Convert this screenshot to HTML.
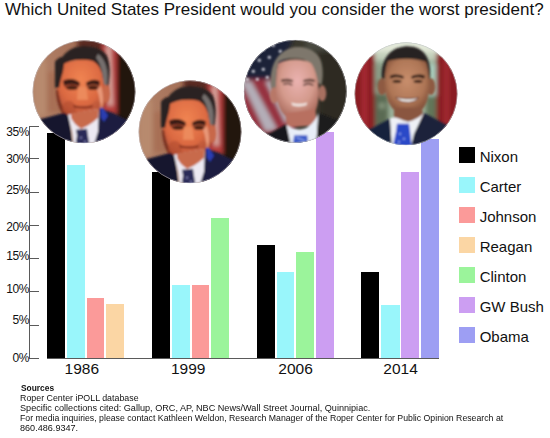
<!DOCTYPE html>
<html><head><meta charset="utf-8">
<style>
*{margin:0;padding:0;box-sizing:border-box}
html,body{width:550px;height:438px;background:#fff;overflow:hidden;position:relative;font-family:"Liberation Sans",sans-serif;color:#111}
.a{position:absolute}
#title{left:5px;top:0px;font-size:17px;white-space:nowrap;line-height:20px}
.yl{position:absolute;right:521px;font-size:12px;line-height:14px;text-align:right;white-space:nowrap;letter-spacing:-0.45px}
.bar{position:absolute;bottom:80px;width:18px}
.yr{position:absolute;top:360px;font-size:15.5px;line-height:17px;white-space:nowrap}
.lg{position:absolute;left:458.5px;width:16.5px;height:16px}
.lt{position:absolute;left:479.7px;font-size:15px;line-height:17px;white-space:nowrap}
.sl{position:absolute;left:20px;font-size:9px;line-height:10px;white-space:nowrap;color:#111;transform-origin:0 0}
</style></head><body>
<div id="title" class="a">Which United States President would you consider the worst president?</div>

<!-- axis -->
<div class="a" style="left:29.2px;top:125.5px;width:1.3px;height:233px;background:#5a5a5a"></div>
<div class="a" style="left:47px;top:357.5px;width:392px;height:1.2px;background:#5a5a5a"></div>
<div class="a" style="left:30px;top:357.5px;width:9px;height:1.2px;background:#5a5a5a"></div>
<div class="a" style="left:30px;top:125.5px;width:9px;height:1.2px;background:#5a5a5a"></div>
<div class="a" style="left:30px;top:158px;width:9px;height:1.2px;background:#5a5a5a"></div>
<div class="a" style="left:30px;top:191.5px;width:9px;height:1.2px;background:#5a5a5a"></div>
<div class="a" style="left:30px;top:225px;width:9px;height:1.2px;background:#5a5a5a"></div>
<div class="a" style="left:30px;top:258px;width:9px;height:1.2px;background:#5a5a5a"></div>
<div class="a" style="left:30px;top:291px;width:9px;height:1.2px;background:#5a5a5a"></div>
<div class="a" style="left:30px;top:324.5px;width:9px;height:1.2px;background:#5a5a5a"></div>
<div class="yl" style="top:125.2px">35%</div>
<div class="yl" style="top:152.3px">30%</div>
<div class="yl" style="top:182.6px">25%</div>
<div class="yl" style="top:219.5px">20%</div>
<div class="yl" style="top:249.2px">15%</div>
<div class="yl" style="top:281.6px">10%</div>
<div class="yl" style="top:312.5px">5%</div>
<div class="yl" style="top:350.7px">0%</div>

<!-- bars -->
<div class="a" style="left:47px;top:133px;width:18px;height:225px;background:#000"></div>
<div class="a" style="left:67px;top:165px;width:18px;height:193px;background:#99f6fb"></div>
<div class="a" style="left:87px;top:298px;width:17px;height:60px;background:#fb9a99"></div>
<div class="a" style="left:106px;top:304px;width:18px;height:54px;background:#fbd6a4"></div>
<div class="a" style="left:152px;top:172px;width:18px;height:186px;background:#000"></div>
<div class="a" style="left:172px;top:285px;width:18px;height:73px;background:#99f6fb"></div>
<div class="a" style="left:192px;top:285px;width:17px;height:73px;background:#fb9a99"></div>
<div class="a" style="left:211px;top:218px;width:18px;height:140px;background:#9bf49b"></div>
<div class="a" style="left:257px;top:245px;width:18px;height:113px;background:#000"></div>
<div class="a" style="left:277px;top:272px;width:17px;height:86px;background:#99f6fb"></div>
<div class="a" style="left:296px;top:252px;width:18px;height:106px;background:#9bf49b"></div>
<div class="a" style="left:316px;top:132px;width:18px;height:226px;background:#cc9ef2"></div>
<div class="a" style="left:361px;top:272px;width:18px;height:86px;background:#000"></div>
<div class="a" style="left:381px;top:305px;width:19px;height:53px;background:#99f6fb"></div>
<div class="a" style="left:401px;top:172px;width:18px;height:186px;background:#cc9ef2"></div>
<div class="a" style="left:421px;top:139px;width:18px;height:219px;background:#9d9ef3"></div>

<div class="yr" style="left:64.6px">1986</div>
<div class="yr" style="left:171px">1999</div>
<div class="yr" style="left:278.3px">2006</div>
<div class="yr" style="left:383.3px">2014</div>

<!-- legend -->
<div class="lg" style="top:147px;background:#000"></div>
<div class="lg" style="top:177px;background:#99f6fb"></div>
<div class="lg" style="top:207px;background:#fb9a99"></div>
<div class="lg" style="top:237px;background:#fbd6a4"></div>
<div class="lg" style="top:267px;background:#9bf49b"></div>
<div class="lg" style="top:297px;background:#cc9ef2"></div>
<div class="lg" style="top:327px;background:#9d9ef3"></div>
<div class="lt" style="top:148px">Nixon</div>
<div class="lt" style="top:178px">Carter</div>
<div class="lt" style="top:208px">Johnson</div>
<div class="lt" style="top:238px">Reagan</div>
<div class="lt" style="top:268px">Clinton</div>
<div class="lt" style="top:298px">GW Bush</div>
<div class="lt" style="top:328px">Obama</div>

<div class="sl" style="top:383px;left:21px;transform:scaleX(0.93)"><b>Sources</b></div>
<div class="sl" style="top:393px;transform:scaleX(0.982)">Roper Center iPOLL database</div>
<div class="sl" style="top:403px;transform:scaleX(1.012)">Specific collections cited: Gallup, ORC, AP, NBC News/Wall Street Journal, Quinnipiac.</div>
<div class="sl" style="top:413px;transform:scaleX(0.97)">For media inquiries, please contact Kathleen Weldon, Research Manager of the Roper Center for Public Opinion Research at</div>
<div class="sl" style="top:423px;transform:scaleX(1.01)">860.486.9347.</div>

<!-- photos -->
<svg class="a" style="left:0;top:0" width="550" height="438" viewBox="0 0 550 438">
<defs>
<clipPath id="cc"><circle cx="0" cy="0" r="51.3"/></clipPath>
<filter id="bl" x="-20%" y="-20%" width="140%" height="140%"><feGaussianBlur stdDeviation="1.1"/></filter>
<filter id="bl2" x="-30%" y="-30%" width="160%" height="160%"><feGaussianBlur stdDeviation="2.2"/></filter>
<radialGradient id="nface" cx="0.45" cy="0.3" r="0.7"><stop offset="0" stop-color="#f08452"/><stop offset="0.55" stop-color="#dc6a42"/><stop offset="1" stop-color="#a04430"/></radialGradient>
<linearGradient id="nbg" x1="0" y1="0" x2="1" y2="0"><stop offset="0" stop-color="#b4846a"/><stop offset="0.4" stop-color="#a47058"/><stop offset="0.6" stop-color="#7a4a38"/><stop offset="1" stop-color="#4a2820"/></linearGradient>
<g id="nixon">
 <g clip-path="url(#cc)">
  <rect x="-52" y="-52" width="104" height="104" fill="url(#nbg)"/>
  <g filter="url(#bl2)">
   <rect x="-50" y="-32" width="12" height="56" fill="#b88a6e"/>
   <rect x="-36" y="-20" width="14" height="40" fill="#a87054"/>
   <path d="M-6,-54 L20,-54 L20,-40 L-6,-40 Z" fill="#5a2a22"/>
   <path d="M18,-50 L33,-50 L34,22 L18,22 Z" fill="#b43a3a"/>
   <path d="M22,-46 L27,-46 L29,14 L24,14 Z" fill="#d8aaa2"/>
   <path d="M33,-54 L54,-54 L54,40 L33,40 Z" fill="#24120e"/>
  </g>
  <g filter="url(#bl)">
   <!-- hair -->
   <path d="M-29,-6 C-30,-24 -24,-38 -10,-44 C4,-48 18,-44 23,-36 C27,-26 26,-14 24,-4 L19,-9 C18,-16 16,-22 15,-24 C12,-29 8,-31 -8,-32 C-14,-31 -20,-28 -21,-27 C-24,-20 -26,-14 -26,-6 Z" fill="#2a2424"/>
   <path d="M14,-38 C22,-32 25,-20 23,-6 L19,-8 C19,-18 17,-28 12,-34 Z" fill="#76706e"/>
   <!-- face -->
   <path d="M-21,-27 C-14,-32 0,-33 8,-31 C13,-29 16,-25 18,-18 C19,-12 20,-8 20,-6 L25,-6 C26,2 24,10 20,14 C19,20 17,26 13,30 C8,34 -6,34 -13,30 C-19,25 -22,16 -23,10 C-27,6 -28,-2 -26,-8 C-25,-14 -23,-22 -21,-27 Z" fill="url(#nface)"/>
   <path d="M-26,-2 C-24,10 -20,22 -13,28 L-16,29 C-24,22 -28,10 -28,-2 Z" fill="#7a3020"/>
   <ellipse cx="22" cy="2" rx="4" ry="9" fill="#c8684a"/><path d="M12,-4 C16,4 17,14 15,22 L18,20 C20,10 19,0 17,-6 Z" fill="#e89878"/><ellipse cx="-15" cy="17" rx="7" ry="8" fill="#b04a30" opacity="0.55"/><ellipse cx="13" cy="17" rx="6" ry="8" fill="#b8583a" opacity="0.4"/>
   <!-- brows / eyes -->
   <path d="M-29,-30 C-26,-34 -22,-36 -19,-34 L-21,-20 C-23,-14 -24,-8 -25,-4 L-29,-4 Z" fill="#2a2424"/>
   <ellipse cx="-12" cy="-6" rx="8" ry="4" fill="#a84a30"/>
   <ellipse cx="9" cy="-6" rx="7" ry="4" fill="#b45a3a"/>
   <path d="M-21,-11 C-15,-14 -8,-13 -4,-9 L-5,-6 C-10,-8 -15,-8 -20,-6 Z" fill="#3a1a16"/>
   <path d="M2,-9 C7,-13 13,-13 16,-10 L15,-6 C11,-8 7,-8 3,-6 Z" fill="#3a1a16"/>
   <ellipse cx="-12" cy="-4" rx="6" ry="2.2" fill="#4a2018"/>
   <ellipse cx="9" cy="-4" rx="5" ry="2.2" fill="#4a2018"/>
   <path d="M-6,-5 L2,-5 L4,8 L-7,8 Z" fill="#ec8a5c"/>
   <path d="M-11,13 C-5,15 4,15 9,13 L8,16 C3,17 -4,17 -10,16 Z" fill="#8a3424"/>
   <!-- suit -->
   <path d="M-56,30 L-42,27 L-19.5,21 L-15,24 L-11,56 L-56,56 Z" fill="#17182e"/>
   <path d="M16.6,17 L28,21 L42.7,28 L56,31 L56,56 L9,56 L10,44 L15,17 Z" fill="#1a1c40"/>
   <path d="M16,16 L19,16 L24,24 L20,30 L17,26 Z" fill="#2a3cb0"/>
   <!-- shirt -->
   <path d="M-16,23 L15,17 L14,40 L9,56 L-10,56 L-12,40 Z" fill="#ece9f2"/>
   <!-- neck -->
   <path d="M-13,22 L15,17 L14,26 C8,32 2,35 -3,37 C-8,34 -11,30 -13,26 Z" fill="#c86a4c"/>
   <!-- tie -->
   <path d="M-8,38 L3,37 L4,44 L6,56 L-9,56 L-7,44 Z" fill="#2c2c58"/>
   <circle cx="-3" cy="46" r="1" fill="#8a8ac0"/><circle cx="1" cy="50" r="1" fill="#8a8ac0"/>
  </g>
 </g>
</g>
<radialGradient id="bface" cx="0.5" cy="0.35" r="0.65"><stop offset="0" stop-color="#eab2b0"/><stop offset="0.6" stop-color="#d49a8c"/><stop offset="1" stop-color="#a8685a"/></radialGradient>
<radialGradient id="oface" cx="0.5" cy="0.4" r="0.62"><stop offset="0" stop-color="#c88e6c"/><stop offset="0.65" stop-color="#ae7656"/><stop offset="1" stop-color="#7c4a34"/></radialGradient>
</defs>

<!-- Nixon 1 & 2 -->
<use href="#nixon" x="84" y="91.8"/>
<use href="#nixon" x="190" y="131.8"/>

<!-- Bush -->
<g transform="translate(295.3,91.3)">
 <g clip-path="url(#cc)">
  <rect x="-52" y="-52" width="104" height="104" fill="#3a382e"/>
  <g filter="url(#bl2)">
   <path d="M-54,-54 L-2,-54 L-18,-11 L-54,-11 Z" fill="#1e2038"/>
   <path d="M-54,-12 L-18,-12 L2,30 L-4,44 L-54,44 Z" fill="#963040"/>
   <path d="M-54,-10 L-44,-10 L-18,38 L-30,40 Z" fill="#b4aeb8"/>
   <path d="M-30,-10 L-24,-10 L-6,28 L-10,32 Z" fill="#b8b2bc"/>
   <rect x="24" y="-54" width="32" height="108" fill="#2e2c24"/>
   <rect x="10" y="-54" width="30" height="14" fill="#4a4a40"/>
  </g>
  <g fill="#e4e4ec" filter="url(#bl)">
   <circle cx="-42" cy="-38" r="1.5"/><circle cx="-32" cy="-42" r="1.5"/><circle cx="-22" cy="-46" r="1.5"/>
   <circle cx="-46" cy="-28" r="1.5"/><circle cx="-36" cy="-31" r="1.5"/><circle cx="-26" cy="-34" r="1.5"/>
   <circle cx="-42" cy="-20" r="1.5"/><circle cx="-32" cy="-22" r="1.5"/><circle cx="-48" cy="-12" r="1.5"/>
   <circle cx="-38" cy="-12" r="1.5"/><circle cx="-15" cy="-40" r="1.5"/><circle cx="-28" cy="-14" r="1.5"/>
  </g>
  <g filter="url(#bl)">
   <!-- hair -->
   <path d="M-24,-2 C-27,-22 -20,-40 -2,-44 C14,-46 26,-38 27,-24 C28,-16 27,-10 26,-6 L21,-10 C21,-20 17,-28 8,-32 C-2,-34 -12,-33 -17,-29 C-19,-20 -19,-10 -18,-3 Z" fill="#7e776c"/>
   <ellipse cx="-21" cy="4" rx="4.5" ry="8" fill="#b87868"/>
   <ellipse cx="27" cy="2" rx="4" ry="8" fill="#a87060"/>
   <!-- face -->
   <path d="M-17,-28 C-8,-33 8,-33 16,-28 C20,-22 22,-14 23,-6 C24,4 23,14 20,20 C16,26 10,29 2,29 C-6,29 -12,24 -15,18 C-19,10 -20,-2 -19,-12 C-19,-18 -18,-24 -17,-28 Z" fill="url(#bface)"/>
   <path d="M-14,-12 C-10,-13 -5,-13 -2,-11 L-3,-9 C-7,-10 -11,-10 -14,-9 Z" fill="#6a4a40"/>
   <path d="M8,-11 C12,-13 17,-13 20,-11 L19,-9 C16,-10 12,-10 8,-9 Z" fill="#6a4a40"/>
   <path d="M-12,-7 C-9,-8 -5,-8 -3,-6" stroke="#5a3a34" stroke-width="1.5" fill="none"/>
   <path d="M8,-6 C11,-8 15,-8 18,-6" stroke="#5a3a34" stroke-width="1.5" fill="none"/>
   <path d="M-4,11 C0,13 8,13 12,11 L11,14 C6,15.5 0,15.5 -3,14 Z" fill="#f0e6e2"/>
   <!-- neck -->
   <path d="M-10,22 L20,18 L22,34 L-8,36 Z" fill="#b87060"/>
   <!-- suit -->
   <path d="M-56,46 L-25.8,42.2 L-8.8,32.7 L-4,56 L-56,56 Z" fill="#19191b"/>
   <path d="M23.3,21.4 L42.2,29 L56,34 L56,56 L18,56 L21.4,46 Z" fill="#1b1b1d"/>
   <!-- shirt -->
   <path d="M-9,33 C-4,38 6,40 12,36 C18,32 22,26 23,21 L21.4,46 L18,56 L-4,56 Z" fill="#e8eef8"/>
   <!-- tie -->
   <path d="M-1,44 L12,44 L13,56 L-3,56 Z" fill="#3a5ac8"/>
   <path d="M1,46 L10,50" stroke="#9ab0f0" stroke-width="1.2"/>
  </g>
 </g>
</g>

<!-- Obama -->
<g transform="translate(406,93.8)">
 <g clip-path="url(#cc)">
  <rect x="-52" y="-52" width="104" height="104" fill="#9cb09a"/>
  <g filter="url(#bl2)">
   <rect x="-54" y="-54" width="108" height="14" fill="#e2e8d8"/>
   <rect x="-32" y="-42" width="64" height="8" fill="#c4d0bc"/>
   <rect x="-31" y="-30" width="10" height="64" fill="#8a9c86"/>
   <rect x="20" y="-30" width="11" height="64" fill="#a8ccbc"/>
   <circle cx="-26" cy="-10" r="3" fill="#5e7058"/>
   <rect x="-32" y="0" width="14" height="36" fill="#5a6a52"/><circle cx="-24" cy="12" r="3" fill="#8a9a80"/>
   <rect x="20" y="2" width="12" height="34" fill="#627458"/>
   <path d="M-56,-41 L-31.5,-41 L-31,38 L-56,38 Z" fill="#8a1e24"/>
   <path d="M30.3,-41 L56,-41 L56,38 L30.3,38 Z" fill="#8a1e24"/>
   <rect x="-44" y="-38" width="5" height="72" fill="#a82a34"/>
   <rect x="38" y="-38" width="5" height="72" fill="#a22a32"/>
  </g>
  <g filter="url(#bl)">
   <!-- hair -->
   <path d="M-24,-14 C-26,-32 -18,-46 0,-47.5 C18,-48 26,-36 24,-14 L20,-16 C20,-24 18,-30 14,-32 C4,-34 -8,-34 -16,-32 C-20,-28 -20,-20 -20,-16 Z" fill="#262422"/>
   <ellipse cx="-24" cy="-7" rx="4.5" ry="8.5" fill="#8e5a42"/>
   <ellipse cx="25" cy="-7" rx="4.5" ry="8.5" fill="#8e5a42"/>
   <!-- face -->
   <path d="M-18,-33 C-6,-36 10,-36 20,-32 C23,-24 23.5,-12 23,-2 C22,6 20,12 15,17 C10,21 -4,22 -11,17 C-17,12 -20,4 -21,-4 C-22,-14 -21,-26 -18,-33 Z" fill="url(#oface)"/>
   <path d="M-16,-18 C-12,-20 -6,-20 -2,-17 L-3,-15 C-7,-17 -12,-17 -16,-15 Z" fill="#2e1c14"/>
   <path d="M5,-17 C9,-20 15,-20 19,-18 L18,-15 C14,-17 10,-17 6,-15 Z" fill="#2e1c14"/>
   <ellipse cx="-9" cy="-12.5" rx="4.5" ry="1.6" fill="#3a2418"/>
   <ellipse cx="12" cy="-12.5" rx="4.5" ry="1.6" fill="#3a2418"/>
   <path d="M-11,3 C-3,5 8,5 13,3 C11,10 -6,11 -11,3 Z" fill="#5a2a20"/>
   <path d="M-9.5,4 C-2,6 8,6 11.5,4 C9,9 -5,9.5 -9.5,4 Z" fill="#f6f6f4"/>
   <!-- neck -->
   <path d="M-12,14 L16,14 L18,28 L-12,28 Z" fill="#8a5640"/>
   <!-- suit -->
   <path d="M-56,38 L-35,35 L-16,24.7 L-12,56 L-56,56 Z" fill="#19203c"/>
   <path d="M18,19 L38.7,30.3 L56,36 L56,56 L4,56 L8,40 Z" fill="#1b203a"/>
   <!-- shirt -->
   <path d="M-16,24.7 C-10,22 -6,26 2,28 C10,26 15,22 18,19 L8,40 L4,56 L-14,56 Z" fill="#eef0f6"/>
   <!-- tie -->
   <path d="M-9,30 L3,30 L4,37 L6,56 L-14,56 L-10,38 Z" fill="#2a4ac8"/>
   <circle cx="-6" cy="40" r="0.9" fill="#b8c8ff"/><circle cx="-2" cy="45" r="0.9" fill="#b8c8ff"/><circle cx="-7" cy="48" r="0.9" fill="#b8c8ff"/>
  </g>
 </g>
</g>
<g fill="none" stroke="#c8c8d0" stroke-opacity="0.55" stroke-width="0.9">
<circle cx="84" cy="91.8" r="51.1"/><circle cx="190" cy="131.8" r="51.1"/><circle cx="295.3" cy="91.3" r="51.1"/><circle cx="406" cy="93.8" r="51.1"/>
</g>
</svg>
</body></html>
